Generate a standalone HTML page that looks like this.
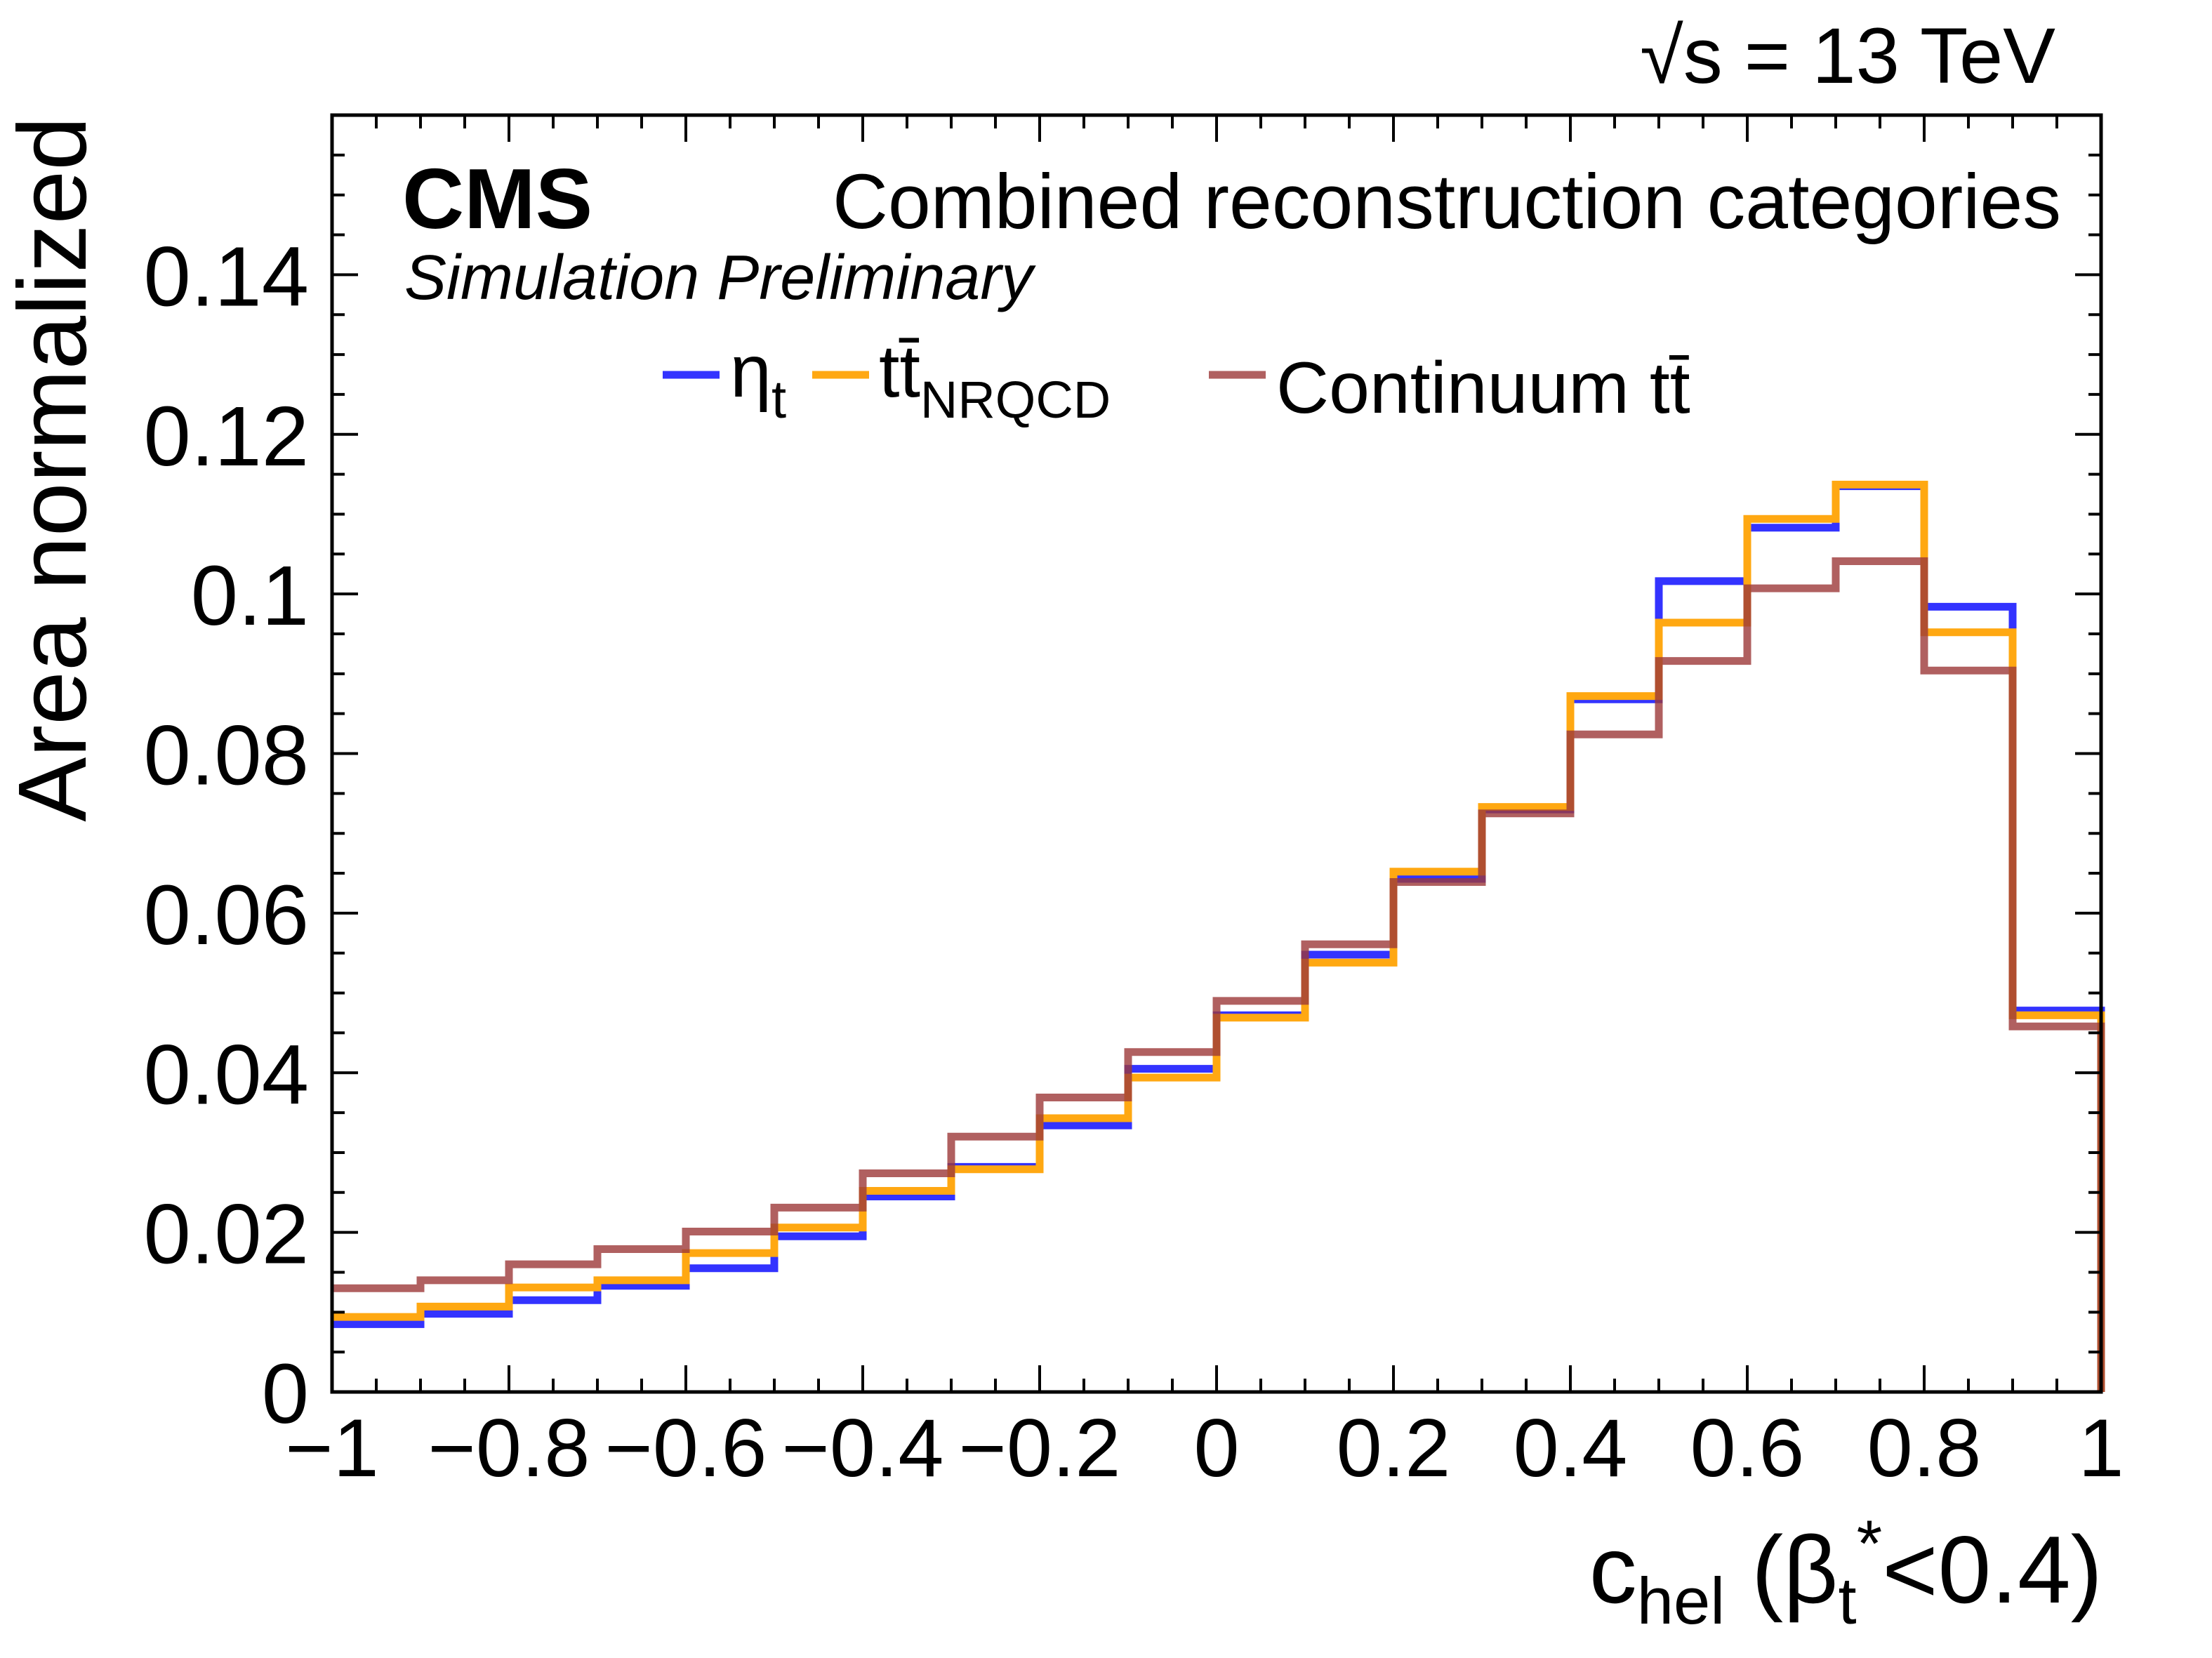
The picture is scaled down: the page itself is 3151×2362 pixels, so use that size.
<!DOCTYPE html>
<html><head><meta charset="utf-8"><style>
html,body{margin:0;padding:0;background:#fff}
svg{display:block;font-family:"Liberation Sans",sans-serif}
</style></head><body>
<svg id="chart" width="3151" height="2362" viewBox="0 0 3151 2362" xmlns="http://www.w3.org/2000/svg">
<g id="series"></g>
<g id="axes"></g>
<rect x="473" y="164" width="2520" height="1819" fill="none" stroke="#000" stroke-width="5"/>
<text x="2928" y="118" font-size="112" text-anchor="end">√s = 13 TeV</text>
<text x="573" y="325" font-size="122" font-weight="bold">CMS</text>
<text x="576" y="426" font-size="90" font-style="italic">Simulation Preliminary</text>
<text x="1186" y="325" font-size="110" textLength="1750" lengthAdjust="spacingAndGlyphs">Combined reconstruction categories</text>
<g>
 <line x1="944" y1="534" x2="1025" y2="534" stroke="#3333ff" stroke-width="11"/>
 <text x="1040" y="565" font-size="106">η<tspan font-size="76" dy="30">t</tspan></text>
 <line x1="1157" y1="534" x2="1238" y2="534" stroke="#ffa812" stroke-width="11"/>
 <text x="1252" y="565" font-size="106">tt̄<tspan font-size="74" dy="30">NRQCD</tspan></text>
 <line x1="1722" y1="534" x2="1803" y2="534" stroke="rgba(156,56,56,0.8)" stroke-width="11"/>
 <text x="1818" y="588" font-size="104">Continuum tt̄</text>
</g>
<text x="2995" y="2283" font-size="136" text-anchor="end">c<tspan font-size="94" dy="30">hel</tspan><tspan dy="-30"> (β</tspan><tspan font-size="94" dy="30">t</tspan><tspan font-size="94" dy="-82">*</tspan><tspan dy="52">&lt;0.4)</tspan></text>
<text transform="translate(122,166) rotate(-90)" font-size="138" text-anchor="end">Area normalized</text>
</svg>
<script>
const binEdgesStart = -1, binWidth = 0.1;
const etaT = [0.0085,0.0098,0.0115,0.0133,0.0155,0.0195,0.0245,0.0282,0.0334,0.0405,0.0472,0.0548,0.0643,0.073,0.0868,0.1016,0.1083,0.1135,0.0984,0.0478];
const ttNRQCD = [0.0094,0.0107,0.0131,0.014,0.0174,0.0206,0.0252,0.0279,0.0343,0.0394,0.0469,0.0538,0.0652,0.0733,0.0872,0.0964,0.1094,0.1137,0.0952,0.0472];
const continuum = [0.013,0.014,0.016,0.0179,0.0201,0.0231,0.0274,0.032,0.0369,0.0426,0.049,0.0561,0.0639,0.0725,0.0824,0.0916,0.1007,0.1041,0.0904,0.0458];
const xTicks = [-1,-0.8,-0.6,-0.4,-0.2,0,0.2,0.4,0.6,0.8,1];
const xTickLabels = ["−1","−0.8","−0.6","−0.4","−0.2","0","0.2","0.4","0.6","0.8","1"];
const yTicks = [0,0.02,0.04,0.06,0.08,0.1,0.12,0.14];
const yTickLabels = ["0","0.02","0.04","0.06","0.08","0.1","0.12","0.14"];

const X0=473,X1=2993,Y0=1983,Y1=164,xmin=-1,xmax=1,ymin=0,ymax=0.16;
const sx=v=>X0+(v-xmin)/(xmax-xmin)*(X1-X0);
const sy=v=>Y0-(v-ymin)/(ymax-ymin)*(Y0-Y1);
const NS="http://www.w3.org/2000/svg";
const series=document.getElementById('series'), axes=document.getElementById('axes');
function mk(tag,attrs,parent){const e=document.createElementNS(NS,tag);for(const k in attrs)e.setAttribute(k,attrs[k]);parent.appendChild(e);return e;}

function histPath(vals){
  let d='M'+sx(binEdgesStart)+','+sy(vals[0]);
  for(let i=0;i<vals.length;i++){
    if(i>0) d+=' V'+sy(vals[i]);
    d+=' H'+sx(binEdgesStart+(i+1)*binWidth);
  }
  d+=' V'+sy(0);
  return d;
}
const p1=mk('path',{d:histPath(etaT),fill:'none',stroke:'#3333ff','stroke-width':11},series);


const p2=mk('path',{d:histPath(ttNRQCD),fill:'none',stroke:'#ffa812','stroke-width':11},series);


const p3=mk('path',{d:histPath(continuum),fill:'none',stroke:'rgba(156,56,56,0.8)','stroke-width':11},series);



for(let k=0;k<=40;k++){
  const v=-1+k*0.05, x=sx(v), major=(k%4===0), L=major?38:19;
  const t1=mk('line',{x1:x,y1:Y0,x2:x,y2:Y0-L,stroke:'#000','stroke-width':4},axes);
  
  
  const t2=mk('line',{x1:x,y1:Y1,x2:x,y2:Y1+L,stroke:'#000','stroke-width':4},axes);
  
  
}
for(let k=0;k<=32;k++){
  const v=k*0.005, y=sy(v), major=(k%4===0), L=major?37:18;
  const t1=mk('line',{x1:X0,y1:y,x2:X0+L,y2:y,stroke:'#000','stroke-width':4},axes);
  
  
  const t2=mk('line',{x1:X1,y1:y,x2:X1-L,y2:y,stroke:'#000','stroke-width':4},axes);
  
  
}
xTicks.forEach((v,i)=>{
  const t=mk('text',{x:sx(v),y:2103,'font-size':117,'text-anchor':'middle'},axes);
  t.textContent=xTickLabels[i];
  
  
});
yTicks.forEach((v,i)=>{
  const t=mk('text',{x:440,y:sy(v)+44,'font-size':121,'text-anchor':'end'},axes);
  t.textContent=yTickLabels[i];
  
  
});
</script>
</body></html>
